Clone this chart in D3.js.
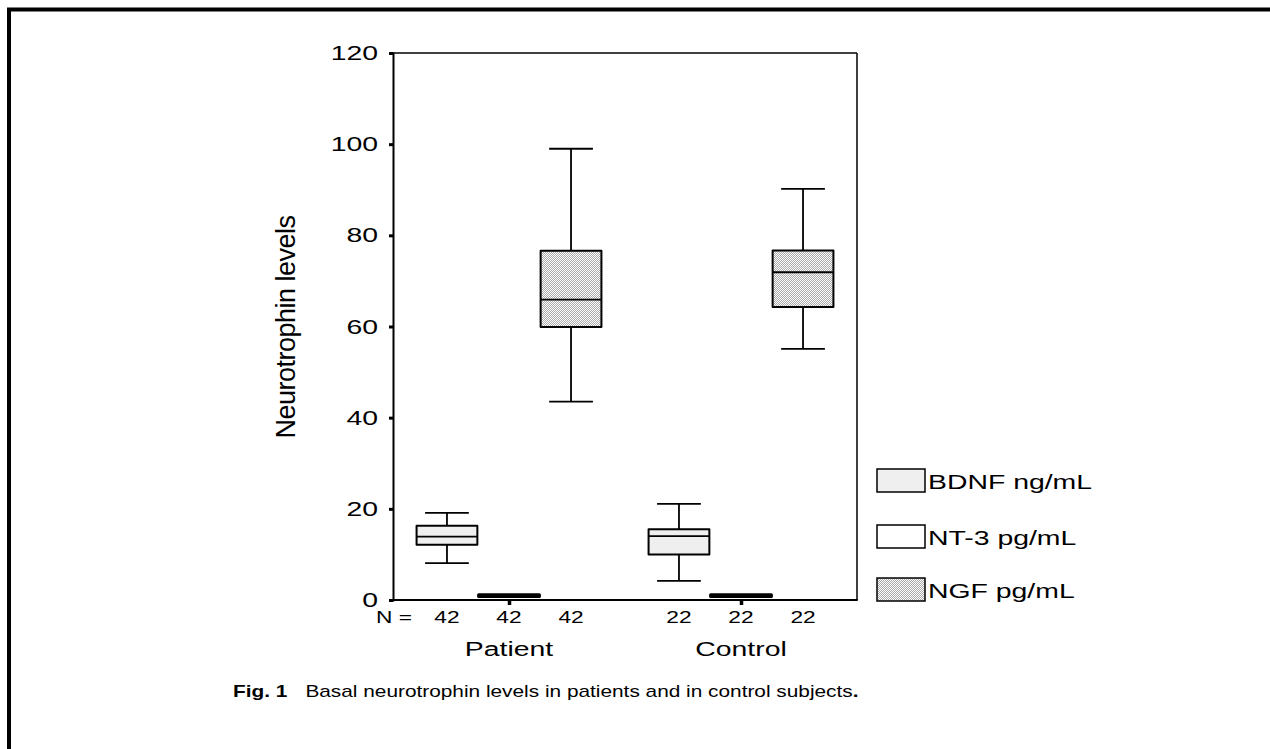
<!DOCTYPE html>
<html>
<head>
  <meta charset="utf-8">
  <title>Basal neurotrophin levels</title>
  <style>
    body { margin: 0; background: #fff; }
    text { font-family: "Liberation Sans", Arial, sans-serif; fill: #000; }
  </style>
  <script src="https://d3js.org/d3.v7.min.js"></script>
</head>
<body>
<svg width="1270" height="749"></svg>
<script>
// data: [min, q1, median, q3, max] per group
var groups = ["Patient", "Control"];
var series = ["BDNF ng/mL", "NT-3 pg/mL", "NGF pg/mL"];
var counts = [42, 22];
var bdnf = [[8.1, 12.1, 13.9, 16.3, 19.1], [4.2, 10.0, 14.0, 15.5, 21.1]];
var nt3 = [[0.8, 0.76, 0.96, 1.16, 1.1], [0.8, 0.76, 0.96, 1.16, 1.1]];
var ngf = [[43.5, 59.9, 65.9, 76.6, 99.0], [55.1, 64.3, 71.9, 76.7, 90.2]];
var yTicks = [0, 20, 40, 60, 80, 100, 120];

var fills = ["#efefef", "#ffffff", "url(#dots)"];
var stats = [bdnf, nt3, ngf];
var sx = 1.42; // the original figure is stretched sideways

var svg = d3.select("svg");

var defs = svg.append("defs");
var pat = defs.append("pattern").attr("id", "dots")
  .attr("width", 2).attr("height", 2).attr("patternUnits", "userSpaceOnUse");
pat.append("rect").attr("width", 2).attr("height", 2).attr("fill", "#fff");
pat.append("rect").attr("width", 1).attr("height", 1).attr("fill", "#a8a8a8");
pat.append("rect").attr("x", 1).attr("y", 1).attr("width", 1).attr("height", 1).attr("fill", "#a8a8a8");

// outer frame (only left and top edges fall inside the picture)
svg.append("rect").attr("x", 9).attr("y", 9.5).attr("width", 1400).attr("height", 900)
  .attr("fill", "none").attr("stroke", "#000").attr("stroke-width", 4);

var pLeft = 393, pRight = 857, pTop = 53, pBottom = 600;

var y = d3.scaleLinear().domain([0, 120]).range([pBottom, pTop]);
var xGroup = d3.scaleBand().domain(groups).range([pLeft, pRight]).padding(0);
var xSub = d3.scalePoint().domain(series).range([0, xGroup.bandwidth()]).padding(0.87);
var boxW = xSub.step() * 0.98;
var capW = boxW * 0.72;

// plot frame
svg.append("line").attr("x1", pLeft).attr("x2", pRight).attr("y1", pTop).attr("y2", pTop)
  .attr("stroke", "#000").attr("stroke-width", 1.5);
svg.append("line").attr("x1", pRight).attr("x2", pRight).attr("y1", pTop).attr("y2", pBottom)
  .attr("stroke", "#000").attr("stroke-width", 1.5);

// y axis
var yAxis = svg.append("g").attr("transform", "translate(" + pLeft + ",0)")
  .call(d3.axisLeft(y).tickValues(yTicks).tickSize(4).tickFormat(""));
yAxis.select(".domain").attr("stroke", "#000").attr("stroke-width", 2);
yAxis.selectAll(".tick line").attr("stroke", "#000").attr("stroke-width", 3);

svg.selectAll(".ylab").data(yTicks).enter().append("text")
  .attr("class", "ylab")
  .attr("text-anchor", "end")
  .attr("font-size", "20px")
  .attr("transform", function(d) { return "translate(378," + (y(d) + 7) + ") scale(" + sx + ",1)"; })
  .text(function(d) { return d; });

// x axis
var xPos = groups.map(function(g) { return xGroup(g) + xSub(series[1]); });
var xAxisScale = d3.scaleOrdinal().domain(groups).range(xPos);
var xAxis = svg.append("g").attr("transform", "translate(0," + pBottom + ")")
  .call(d3.axisBottom(xAxisScale).tickSize(5).tickFormat(""));
xAxis.select(".domain").remove();
xAxis.selectAll(".tick line").attr("stroke", "#000").attr("stroke-width", 3.5);
svg.append("line").attr("x1", pLeft - 1).attr("x2", pRight + 0.75).attr("y1", pBottom).attr("y2", pBottom)
  .attr("stroke", "#000").attr("stroke-width", 2);

// boxes
var cells = [];
groups.forEach(function(g, gi) {
  series.forEach(function(s, si) {
    cells.push({ g: g, s: s, si: si, n: counts[gi], v: stats[si][gi] });
  });
});

var box = svg.selectAll(".box").data(cells).enter().append("g")
  .attr("class", "box")
  .attr("transform", function(d) { return "translate(" + (xGroup(d.g) + xSub(d.s)) + ",0)"; });

box.append("line").attr("x1", 0).attr("x2", 0)
  .attr("y1", function(d) { return y(d.v[4]); })
  .attr("y2", function(d) { return y(d.v[0]); })
  .attr("stroke", "#000").attr("stroke-width", 1.8);
box.append("line").attr("x1", -capW / 2).attr("x2", capW / 2)
  .attr("y1", function(d) { return y(d.v[4]); })
  .attr("y2", function(d) { return y(d.v[4]); })
  .attr("stroke", "#000").attr("stroke-width", 1.8);
box.append("line").attr("x1", -capW / 2).attr("x2", capW / 2)
  .attr("y1", function(d) { return y(d.v[0]); })
  .attr("y2", function(d) { return y(d.v[0]); })
  .attr("stroke", "#000").attr("stroke-width", 1.8);
box.append("rect")
  .attr("x", -boxW / 2).attr("width", boxW)
  .attr("y", function(d) { return y(d.v[3]); })
  .attr("height", function(d) { return y(d.v[1]) - y(d.v[3]); })
  .attr("fill", function(d) { return fills[d.si]; })
  .attr("stroke", "#000")
  .attr("stroke-width", function(d) { return d.si === 1 ? 3 : 2; })
  .attr("stroke-linejoin", "round");
box.append("line").attr("x1", -boxW / 2).attr("x2", boxW / 2)
  .attr("y1", function(d) { return y(d.v[2]); })
  .attr("y2", function(d) { return y(d.v[2]); })
  .attr("stroke", "#000").attr("stroke-width", 1.8);

// N labels
box.append("text")
  .attr("text-anchor", "middle")
  .attr("font-size", "16px")
  .attr("transform", "translate(0,623) scale(" + sx + ",1)")
  .text(function(d) { return d.n; });
svg.append("text")
  .attr("text-anchor", "end")
  .attr("font-size", "16px")
  .attr("transform", "translate(412,623) scale(" + sx + ",1)")
  .text("N =");

// group labels
svg.selectAll(".glab").data(groups).enter().append("text")
  .attr("class", "glab")
  .attr("text-anchor", "middle")
  .attr("font-size", "20px")
  .attr("transform", function(d) { return "translate(" + (xGroup(d) + xSub(series[1])) + ",656) scale(" + sx + ",1)"; })
  .text(function(d) { return d; });

// y title
svg.append("text")
  .attr("text-anchor", "middle")
  .attr("font-size", "27px")
  .attr("letter-spacing", "-0.5px")
  .attr("transform", "translate(295,327) rotate(-90)")
  .text("Neurotrophin levels");

// legend
var legY = [469, 525, 578];
var leg = svg.selectAll(".leg").data(series).enter().append("g")
  .attr("class", "leg")
  .attr("transform", function(d, i) { return "translate(877," + legY[i] + ")"; });
leg.append("rect").attr("width", 48).attr("height", 23)
  .attr("fill", function(d, i) { return fills[i]; })
  .attr("stroke", "#000").attr("stroke-width", 1.5);
leg.append("text")
  .attr("font-size", "20px")
  .attr("transform", "translate(51,20) scale(" + sx + ",1)")
  .text(function(d) { return d; });

// caption
var cap = svg.append("text").attr("font-size", "16.4px")
  .attr("transform", "translate(233,697) scale(1.27,1)");
cap.append("tspan").attr("x", 0).attr("font-weight", "bold").text("Fig. 1");
cap.append("tspan").attr("x", 57).text("Basal neurotrophin levels in patients and in control subjects");
cap.append("tspan").attr("font-weight", "bold").text(".");
</script>
</body>
</html>
